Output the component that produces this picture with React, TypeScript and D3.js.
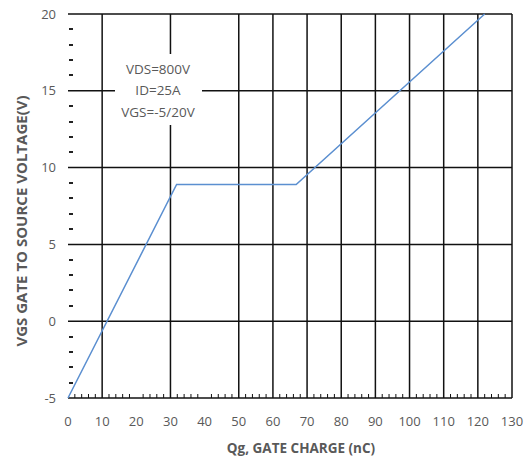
import { useEffect, useRef } from 'react';
import * as d3 from 'd3';

// gate charge curve, Qg (nC) vs VGS (V)
const chargeNc = [0, 31.8, 66.8, 122];
const gateVolts = [-5, 8.9, 8.9, 20];

const xGridValues = [10, 30, 50, 60, 70, 80, 90, 100, 110, 120, 130];
const xTickValues = [0, 10, 20, 30, 40, 50, 60, 70, 80, 90, 100, 110, 120, 130];
const yTickValues = [-5, 0, 5, 10, 15, 20];
const noteLines = ['VDS=800V', 'ID=25A', 'VGS=-5/20V'];

const W = 529;
const H = 458;
const margin = { left: 68, right: 17, top: 14, bottom: 60 };
const labelFont = '"Open Sans", "Liberation Sans", Arial, sans-serif';
const grey = '#595959';

export default function App() {
  const svgRef = useRef<SVGSVGElement>(null);

  useEffect(() => {
    const svg = d3.select(svgRef.current);
    svg.selectAll('*').remove();

    const x = d3.scaleLinear().domain([0, 130]).range([margin.left, W - margin.right]);
    const y = d3.scaleLinear().domain([-5, 20]).range([H - margin.bottom, margin.top]);

    svg.append('rect').attr('width', W).attr('height', H).attr('fill', '#fff');

    // horizontal grid lines
    svg.append('g')
      .selectAll('line')
      .data(yTickValues)
      .join('line')
      .attr('x1', x(0))
      .attr('x2', x(130))
      .attr('y1', d => y(d))
      .attr('y2', d => y(d))
      .attr('stroke', '#111')
      .attr('stroke-width', 1.5);

    // vertical grid lines
    svg.append('g')
      .selectAll('line')
      .data(xGridValues)
      .join('line')
      .attr('x1', d => x(d))
      .attr('x2', d => x(d))
      .attr('y1', y(20))
      .attr('y2', y(-5))
      .attr('stroke', '#111')
      .attr('stroke-width', 1.5);

    // minor ticks
    const yMinor = d3.range(-4, 20).filter(v => v % 5 !== 0);
    svg.append('g')
      .selectAll('line')
      .data(yMinor)
      .join('line')
      .attr('x1', x(0) + 1)
      .attr('x2', x(0) + 5)
      .attr('y1', d => Math.round(y(d)))
      .attr('y2', d => Math.round(y(d)))
      .attr('stroke', '#222')
      .attr('stroke-width', 2);

    const xMinor = d3.range(2, 130, 2).filter(v => v % 10 !== 0);
    svg.append('g')
      .selectAll('line')
      .data(xMinor)
      .join('line')
      .attr('x1', d => x(d))
      .attr('x2', d => x(d))
      .attr('y1', y(-5))
      .attr('y2', y(-5) - 4)
      .attr('stroke', '#111')
      .attr('stroke-width', 1);

    // tick labels
    svg.append('g')
      .selectAll('text')
      .data(yTickValues)
      .join('text')
      .attr('x', x(0) - 12)
      .attr('y', d => y(d))
      .attr('dy', '0.35em')
      .attr('text-anchor', 'end')
      .attr('font-family', labelFont)
      .attr('font-size', 13)
      .attr('fill', grey)
      .text(d => d);

    svg.append('g')
      .selectAll('text')
      .data(xTickValues)
      .join('text')
      .attr('x', d => x(d))
      .attr('y', y(-5) + 28)
      .attr('text-anchor', 'middle')
      .attr('font-family', labelFont)
      .attr('font-size', 13)
      .attr('fill', grey)
      .text(d => d);

    // axis titles
    svg.append('text')
      .attr('x', 301)
      .attr('y', 453)
      .attr('text-anchor', 'middle')
      .attr('font-family', labelFont)
      .attr('font-size', 13.5)
      .attr('font-weight', 'bold')
      .attr('fill', grey)
      .text('Qg, GATE CHARGE (nC)');

    svg.append('text')
      .attr('transform', 'translate(27, 221) rotate(-90)')
      .attr('text-anchor', 'middle')
      .attr('font-family', labelFont)
      .attr('font-size', 15)
      .attr('font-weight', 'bold')
      .attr('fill', grey)
      .text('VGS GATE TO SOURCE VOLTAGE(V)');

    // note box
    svg.append('rect')
      .attr('x', 115)
      .attr('y', 54)
      .attr('width', 87)
      .attr('height', 71)
      .attr('fill', '#fff');

    svg.append('g')
      .selectAll('text')
      .data(noteLines)
      .join('text')
      .attr('x', 158)
      .attr('y', (d, i) => 69 + i * 21.5)
      .attr('dy', '0.35em')
      .attr('text-anchor', 'middle')
      .attr('font-family', labelFont)
      .attr('font-size', 13.5)
      .attr('fill', grey)
      .text(d => d);

    // curve
    const line = d3.line<number>()
      .x((d, i) => x(chargeNc[i]))
      .y(d => y(d));

    svg.append('path')
      .datum(gateVolts)
      .attr('d', line)
      .attr('fill', 'none')
      .attr('stroke', '#5b8fd0')
      .attr('stroke-width', 1.5);
  }, []);

  return <svg ref={svgRef} width={W} height={H} style={{ display: 'block', position: 'absolute', left: 0, top: 0 }} />;
}
